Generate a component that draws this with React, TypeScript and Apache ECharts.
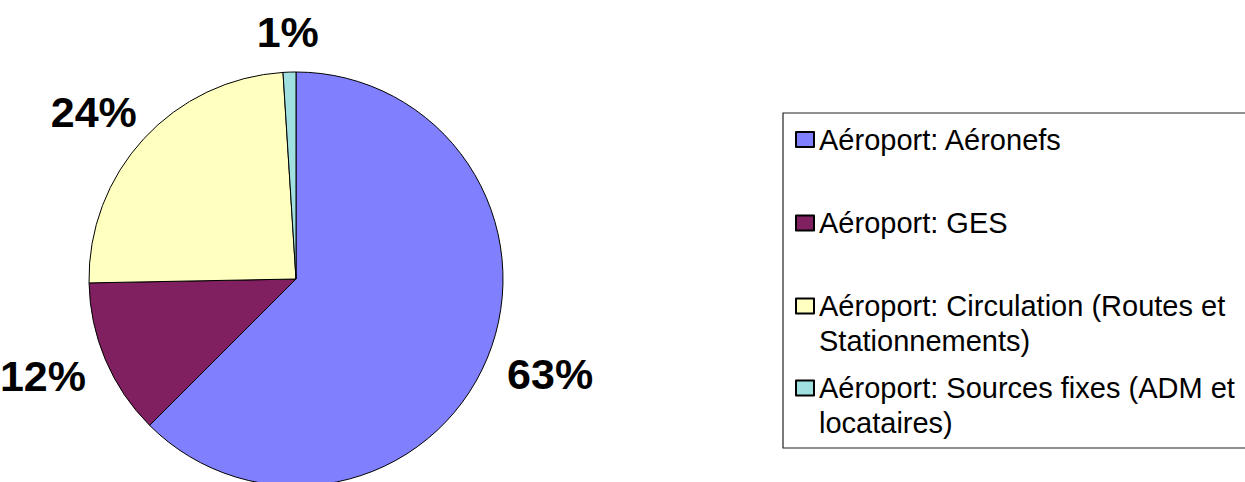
import React, { useEffect, useRef } from "react";
import * as echarts from "echarts";

const categories = [
  "Aéroport: Aéronefs",
  "Aéroport: GES",
  "Aéroport: Circulation (Routes et Stationnements)",
  "Aéroport: Sources fixes (ADM et locataires)",
];
// shares (%); the labels round them to 63 / 12 / 24 / 1
const values = [62.5, 12.2, 24.3, 1.0];
const colors = ["#8080FF", "#802060", "#FFFFC0", "#A0E0E0"];

// layout constants (not data)
const CX = 296;
const CY = 279;
const R = 207;
const LABEL_DIST = 232;
const LEGEND_WRAPPED = [false, false, true, true];
const LEGEND_PAD = [
  [35.5, 0, 35.5, 0],
  [36, 0, 36, 0],
  [0, 0, 0, 0],
  [0, 0, 0, 0],
];

export default function App() {
  const ref = useRef<HTMLDivElement>(null);

  useEffect(() => {
    if (!ref.current) return;
    const chart = echarts.init(ref.current, undefined, { renderer: "svg" });
    const total = values.reduce((a, b) => a + b, 0);
    const cum: number[] = [];
    values.reduce((acc, v, i) => {
      cum[i] = acc;
      return acc + v;
    }, 0);

    const option = {
      animation: false,
      backgroundColor: "#ffffff",
      color: colors,
      legend: {
        orient: "vertical",
        left: 783,
        top: 113,
        height: 1000,
        icon: "rect",
        itemWidth: 18,
        itemHeight: 15,
        itemGap: -23,
        padding: [-26.5, 30, 7.5, 12],
        borderColor: "#222",
        borderWidth: 1.2,
        backgroundColor: "#ffffff",
        selectedMode: false,
        formatter: (name: string) =>
          LEGEND_WRAPPED[categories.indexOf(name)] ? "\n" + name : name,
        textStyle: {
          fontFamily: "Liberation Sans, Arial, sans-serif",
          fontSize: 29,
          lineHeight: 35,
          color: "#000",
          width: 440,
          overflow: "break",
        },
        data: categories.map((name, i) => ({
          name,
          textStyle: { padding: LEGEND_PAD[i] },
        })),
      },
      series: [
        {
          type: "pie",
          center: [CX, CY],
          radius: R,
          startAngle: 90,
          clockwise: true,
          avoidLabelOverlap: false,
          percentPrecision: 0,
          silent: true,
          itemStyle: { borderColor: "#000", borderWidth: 1 },
          label: {
            show: true,
            position: "outside",
            formatter: "{d}%",
            fontFamily: "Liberation Sans, Arial, sans-serif",
            fontSize: 43,
            fontWeight: "bold",
            color: "#000",
          },
          labelLine: { show: false },
          emphasis: { disabled: true },
          labelLayout: (p: any) => {
            const i = p.dataIndex;
            const mid = ((cum[i] + values[i] / 2) / total) * Math.PI * 2;
            const dx = Math.sin(mid);
            const dy = -Math.cos(mid);
            const hw = p.labelRect.width / 2;
            const hh = 15;
            return {
              x: CX + LABEL_DIST * dx + hw * dx,
              y: CY + LABEL_DIST * dy + hh * dy,
              align: "center",
              verticalAlign: "middle",
            };
          },
          data: categories.map((name, i) => ({ name, value: values[i] })),
        },
      ],
    };
    chart.setOption(option as any);
    return () => chart.dispose();
  }, []);

  return (
    <div
      ref={ref}
      style={{ position: "absolute", left: 0, top: 0, width: 1245, height: 482, background: "#fff" }}
    />
  );
}
